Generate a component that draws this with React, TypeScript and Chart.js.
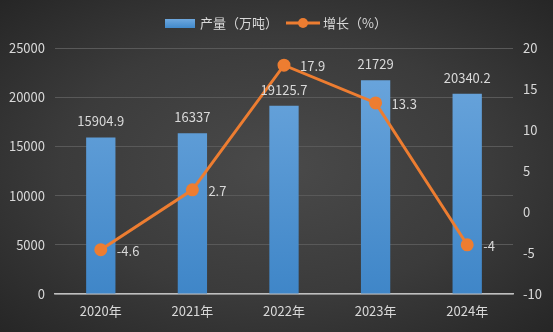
import React, { useEffect, useRef } from "react";
import { Chart, registerables } from "chart.js";

Chart.register(...registerables);

const categories = ["2020年", "2021年", "2022年", "2023年", "2024年"];
const output = [15904.9, 16337, 19125.7, 21729, 20340.2];
const growth = [-4.6, 2.7, 17.9, 13.3, -4];
const outputLabel = "产量（万吨）";
const growthLabel = "增长（%）";

const FONT = "'Noto Sans CJK SC', 'Microsoft YaHei', sans-serif";
const TEXT = "#d9d9d9";

const labelPlugin = {
  id: "labels",
  afterDatasetsDraw(chart: any) {
    const ctx = chart.ctx;
    ctx.save();
    ctx.font = `13px ${FONT}`;
    ctx.fillStyle = TEXT;
    const barMeta = chart.getDatasetMeta(0);
    barMeta.data.forEach((el: any, i: number) => {
      ctx.textAlign = "center";
      ctx.textBaseline = "middle";
      ctx.fillText(String(output[i]), el.x, el.y - 16);
    });
    const lineMeta = chart.getDatasetMeta(1);
    lineMeta.data.forEach((el: any, i: number) => {
      ctx.textAlign = "left";
      ctx.textBaseline = "middle";
      ctx.fillText(String(growth[i]), el.x + 16, el.y + 1);
    });
    // legend
    ctx.font = `13px ${FONT}`;
    ctx.textBaseline = "middle";
    ctx.textAlign = "left";
    const ly = 23;
    const grad = ctx.createLinearGradient(0, 19, 0, 28);
    grad.addColorStop(0, "#6ea8de");
    grad.addColorStop(1, "#4189cb");
    ctx.fillStyle = grad;
    ctx.fillRect(165, 19, 30, 9);
    ctx.fillStyle = TEXT;
    ctx.fillText(outputLabel, 200, ly);
    ctx.strokeStyle = "#ed7d31";
    ctx.lineWidth = 3;
    ctx.beginPath();
    ctx.moveTo(286, ly);
    ctx.lineTo(320, ly);
    ctx.stroke();
    ctx.fillStyle = "#ed7d31";
    ctx.beginPath();
    ctx.arc(303, ly, 5, 0, Math.PI * 2);
    ctx.fill();
    ctx.fillStyle = TEXT;
    ctx.fillText(growthLabel, 323, ly);
    ctx.restore();
  },
};

export default function App() {
  const ref = useRef<HTMLCanvasElement>(null);
  useEffect(() => {
    const canvas = ref.current!;
    const chart = new Chart(canvas, {
      type: "bar",
      data: {
        labels: categories,
        datasets: [
          {
            type: "bar",
            label: outputLabel,
            data: output,
            yAxisID: "y",
            order: 1,
            barPercentage: 0.32,
            categoryPercentage: 1,
            backgroundColor: (c: any) => {
              const area = c.chart.chartArea;
              if (!area) return "#5b9bd5";
              const g = c.chart.ctx.createLinearGradient(0, area.top, 0, area.bottom);
              g.addColorStop(0, "#6ea8de");
              g.addColorStop(1, "#3f86c8");
              return g;
            },
            borderWidth: 0,
          },
          {
            type: "line",
            label: growthLabel,
            data: growth,
            yAxisID: "y1",
            order: 0,
            borderColor: "#ed7d31",
            backgroundColor: "#ed7d31",
            borderWidth: 3,
            pointRadius: 5,
            pointBackgroundColor: "#ed7d31",
            pointBorderColor: "#ed7d31",
            tension: 0,
          },
        ] as any,
      },
      options: {
        responsive: false,
        animation: false,
        layout: { padding: { top: 48, left: 0, right: 0, bottom: 0 } },
        plugins: { legend: { display: false }, tooltip: { enabled: false } },
        scales: {
          x: {
            grid: { display: false, drawTicks: false },
            border: { display: true, color: "#bfbfbf", width: 1.5 },
            ticks: { color: TEXT, font: { size: 13, family: FONT }, padding: 9 },
            afterFit: (s: any) => { s.height = 38; },
          },
          y: {
            position: "left",
            min: 0,
            max: 25000,
            ticks: {
              stepSize: 5000,
              color: TEXT,
              font: { size: 13, family: FONT },
              padding: 10,
              callback: (v: any) => String(v),
            },
            grid: { color: "#595959", lineWidth: 1, drawTicks: false },
            border: { display: false },
            afterFit: (s: any) => { s.width = 55; },
          },
          y1: {
            position: "right",
            min: -10,
            max: 20,
            ticks: {
              stepSize: 5,
              color: TEXT,
              font: { size: 13, family: FONT },
              padding: 10,
              callback: (v: any) => String(v),
            },
            grid: { drawOnChartArea: false, drawTicks: false },
            border: { display: false },
            afterFit: (s: any) => { s.width = 40; },
          },
        },
      } as any,
      plugins: [labelPlugin],
    });
    return () => chart.destroy();
  }, []);
  return (
    <div
      style={{
        position: "fixed",
        left: 0,
        top: 0,
        width: 553,
        height: 332,
        background: "radial-gradient(ellipse at 50% 50%, #4a4a4a 0%, #3b3b3b 55%, #262626 100%)",
      }}
    >
      <canvas ref={ref} width={553} height={332} style={{ display: "block" }} />
    </div>
  );
}
